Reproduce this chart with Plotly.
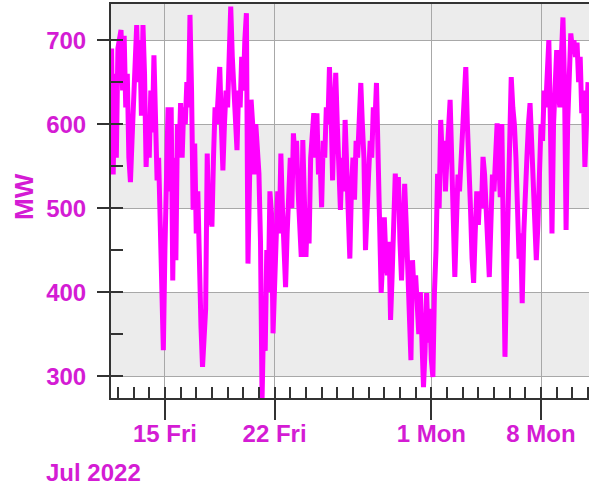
import pandas as pd
import plotly.graph_objects as go

# Values at a ~2.4-hour spacing, starting 11 Jul 2022 14:24
start_time = "2022-07-11 14:24"
step = "144min"
mw = [
    690, 540, 660, 560,                                   # Jul 11
    690, 700, 712, 640, 705, 620, 660, 560, 531, 580,     # Jul 12
    620, 680, 718, 650, 700, 610, 718, 660, 549, 600,     # Jul 13
    560, 640, 590, 682, 620, 533, 560, 470, 400, 331,     # Jul 14
    450, 560, 620, 520, 620, 414, 560, 438, 600, 560,     # Jul 15
    625, 560, 620, 600, 650, 620, 730, 640, 498, 577,     # Jul 16
    470, 520, 420, 360, 311, 340, 380, 565, 480, 520,     # Jul 17
    478, 560, 620, 600, 640, 668, 600, 545, 600, 640,     # Jul 18
    620, 700, 740, 680, 650, 600, 569, 640, 620, 680,     # Jul 19
    640, 700, 732, 434, 560, 629, 600, 540, 600, 560,     # Jul 20
    541, 460, 272, 370, 330, 450, 400, 520, 494, 351,     # Jul 21
    420, 480, 520, 470, 565, 500, 460, 406, 470, 520,     # Jul 22
    560, 500, 589, 560, 580, 520, 480, 442, 581, 530,     # Jul 23
    442, 500, 458, 560, 600, 613, 560, 613, 540, 560,     # Jul 24
    501, 580, 560, 620, 600, 668, 620, 533, 600, 661,     # Jul 25
    600, 560, 498, 560, 520, 605, 560, 500, 440, 520,     # Jul 26
    560, 510, 580, 560, 620, 649, 600, 560, 450, 520,     # Jul 27
    541, 580, 560, 620, 600, 649, 560, 470, 399, 440,     # Jul 28
    489, 440, 420, 460, 367, 420, 480, 541, 500, 537,     # Jul 29
    460, 414, 470, 529, 480, 420, 380, 319, 438, 400,     # Jul 30
    420, 380, 350, 400, 340, 287, 330, 399, 340, 380,     # Jul 31
    320, 299, 400, 450, 541, 500, 605, 560, 580, 520,     # Aug 1
    560, 600, 629, 560, 500, 418, 480, 540, 520, 560,     # Aug 2
    600, 620, 668, 600, 560, 500, 440, 411, 470, 520,     # Aug 3
    480, 520, 500, 561, 540, 500, 470, 418, 480, 540,     # Aug 4
    520, 580, 601, 560, 513, 600, 480, 323, 420, 520,     # Aug 5
    600, 656, 620, 600, 560, 500, 440, 470, 387, 470,     # Aug 6
    530, 560, 600, 625, 580, 530, 500, 438, 480, 540,     # Aug 7
    600, 580, 640, 620, 680, 700, 600, 470, 600, 660,     # Aug 8
    688, 640, 620, 680, 727, 650, 474, 600, 660, 708,     # Aug 9
    690, 700, 680, 697, 650, 680, 613, 640, 549, 600,     # Aug 10
    650,                                                  # Aug 11
]
times = pd.date_range(start_time, periods=len(mw), freq=step)

x_tick_vals = ["2022-07-15", "2022-07-22", "2022-08-01", "2022-08-08"]
x_tick_text = ["15 Fri", "22 Fri", "1 Mon", "8 Mon"]
y_tick_vals = [300, 400, 500, 600, 700]

TXT = "#d41cd4"
FONT = dict(family="Liberation Sans, Arial, sans-serif", size=24, color=TXT, weight="bold")

fig = go.Figure()
fig.add_trace(go.Scatter(x=times, y=mw, mode="lines",
                         line=dict(color="#ff00ff", width=5), hoverinfo="skip"))

# alternating bands
for lo, hi in [(700, 760), (500, 600), (300, 400)]:
    fig.add_shape(type="rect", xref="paper", yref="y", x0=0, x1=1, y0=lo, y1=hi,
                  fillcolor="#ececec", line=dict(width=0), layer="below")

fig.update_layout(
    width=589, height=492,
    margin=dict(l=111, r=0, t=4, b=94),
    plot_bgcolor="white", paper_bgcolor="white",
    showlegend=False,
    font=FONT,
    xaxis=dict(
        range=["2022-07-11 13:26", "2022-08-11 01:30"],
        tickvals=x_tick_vals, ticktext=x_tick_text,
        ticks="outside", ticklen=20, tickwidth=2, tickcolor="#333",
        showline=True, linecolor="#333", linewidth=2, mirror=True,
        showgrid=True, gridcolor="#a8a8a8", gridwidth=1,
        tickfont=FONT, ticklabelstandoff=-7,
        minor=dict(ticks="inside", dtick=86400000, tick0="2022-07-01",
                   ticklen=11, tickwidth=1.5, tickcolor="#333", showgrid=False),
        zeroline=False,
    ),
    yaxis=dict(
        range=[274, 743],
        tickvals=y_tick_vals,
        ticks="outside", ticklen=12, tickwidth=2, tickcolor="#333",
        showline=True, linecolor="#333", linewidth=2,
        showgrid=True, gridcolor="#a8a8a8", gridwidth=1,
        tickfont=FONT, ticklabelstandoff=6,
        minor=dict(ticks="inside", dtick=50, tick0=0, ticklen=12, tickwidth=2,
                   tickcolor="#333", showgrid=False),
        zeroline=False,
    ),
)

fig.add_annotation(text="MW", textangle=-90, xref="paper", yref="paper",
                   x=(24 - 111) / 478, y=(398 - 197) / 394,
                   xanchor="center", yanchor="middle", showarrow=False,
                   font=dict(FONT, size=26))
fig.add_annotation(text="Jul 2022", xref="paper", yref="paper",
                   x=(93 - 111) / 478, y=(398 - 472) / 394,
                   xanchor="center", yanchor="middle", showarrow=False, font=FONT)

fig.write_html("out.html", config={"displayModeBar": False},
               post_script="document.body.style.margin='0';")
